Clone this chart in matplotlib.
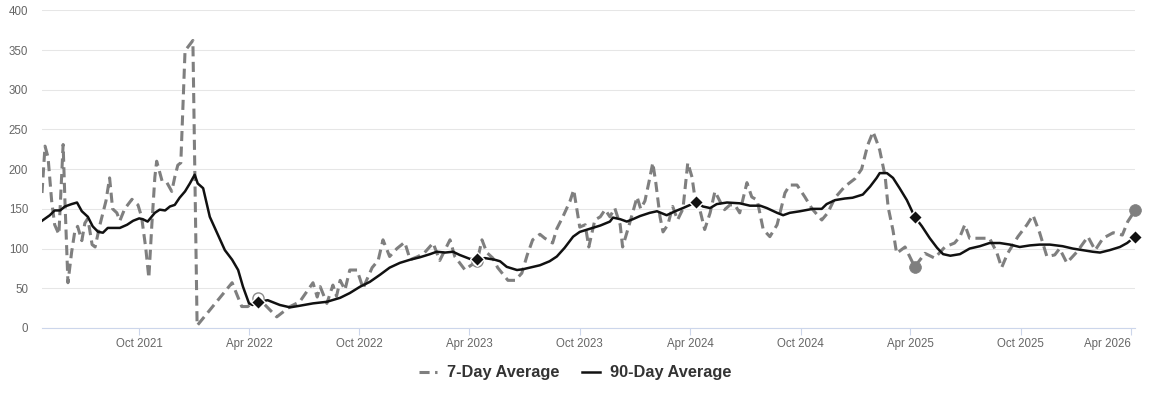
import matplotlib
matplotlib.use('Agg')
import matplotlib.pyplot as plt
import pandas as pd

plt.rcParams['font.family'] = ['Liberation Sans', 'DejaVu Sans']

# 7-day average
week_dates = [
    '2021-04-23', '2021-04-28', '2021-05-03', '2021-05-09', '2021-05-14', '2021-05-21', '2021-05-28',
    '2021-05-31', '2021-06-05', '2021-06-11', '2021-06-16', '2021-06-21', '2021-06-28', '2021-07-03',
    '2021-07-08', '2021-07-15', '2021-07-20', '2021-07-28', '2021-08-07', '2021-08-13', '2021-08-18',
    '2021-08-25', '2021-08-30', '2021-09-07', '2021-09-19', '2021-09-29', '2021-10-05', '2021-10-12',
    '2021-10-17', '2021-10-22', '2021-10-27', '2021-10-30', '2021-11-08', '2021-11-16', '2021-11-24',
    '2021-11-29', '2021-12-04', '2021-12-09', '2021-12-16', '2021-12-29', '2022-01-05', '2022-03-04',
    '2022-03-20', '2022-03-30', '2022-04-16', '2022-05-17', '2022-06-08', '2022-06-24', '2022-07-16',
    '2022-07-23', '2022-07-28', '2022-08-08', '2022-08-18', '2022-08-24', '2022-08-30', '2022-09-07',
    '2022-09-15', '2022-09-27', '2022-10-07', '2022-10-22', '2022-11-01', '2022-11-09', '2022-11-20',
    '2022-12-02', '2022-12-15', '2022-12-24', '2023-01-06', '2023-01-17', '2023-01-31', '2023-02-11',
    '2023-02-28', '2023-03-08', '2023-03-25', '2023-04-02', '2023-04-14', '2023-04-22', '2023-04-30',
    '2023-05-10', '2023-05-18', '2023-06-04', '2023-06-16', '2023-06-27', '2023-07-06', '2023-07-15',
    '2023-07-27', '2023-08-04', '2023-08-17', '2023-08-24', '2023-09-03', '2023-09-15', '2023-09-21',
    '2023-10-01', '2023-10-10', '2023-10-16', '2023-10-26', '2023-11-04', '2023-11-12', '2023-11-20',
    '2023-11-28', '2023-12-07', '2023-12-11', '2023-12-20', '2023-12-28', '2024-01-04', '2024-01-10',
    '2024-01-17', '2024-01-24', '2024-01-30', '2024-02-04', '2024-02-11', '2024-02-16', '2024-02-24',
    '2024-03-03', '2024-03-11', '2024-03-20', '2024-03-28', '2024-04-04', '2024-04-11', '2024-04-17',
    '2024-04-25', '2024-05-04', '2024-05-12', '2024-05-20', '2024-05-28', '2024-06-06', '2024-06-14',
    '2024-06-22', '2024-06-27', '2024-07-04', '2024-07-12', '2024-07-21', '2024-07-31', '2024-08-11',
    '2024-08-23', '2024-09-05', '2024-09-13', '2024-09-25', '2024-10-08', '2024-10-20', '2024-11-05',
    '2024-11-15', '2024-11-27', '2024-12-13', '2024-12-30', '2025-01-10', '2025-01-20', '2025-01-29',
    '2025-02-04', '2025-02-09', '2025-02-18', '2025-02-23', '2025-03-03', '2025-03-09', '2025-03-23',
    '2025-04-08', '2025-04-25', '2025-05-11', '2025-05-28', '2025-06-13', '2025-06-22', '2025-06-30',
    '2025-07-08', '2025-07-25', '2025-08-10', '2025-08-22', '2025-08-30', '2025-09-09', '2025-09-26',
    '2025-10-11', '2025-10-21', '2025-11-01', '2025-11-13', '2025-11-26', '2025-12-04', '2025-12-16',
    '2026-01-02', '2026-01-20', '2026-02-01', '2026-02-14', '2026-03-03', '2026-03-18', '2026-03-27',
    '2026-04-08',
]
week_avg = [
    170, 229, 215, 160, 130, 118, 231,
    160, 57, 95, 120, 128, 110, 132,
    138, 105, 102, 130, 160, 189, 150,
    145, 135, 150, 162, 155, 140, 100,
    63, 130, 190, 210, 185, 183, 172,
    190, 205, 208, 349, 362, 3, 57,
    27, 27, 38, 14, 27, 33, 57,
    39, 52, 31, 54, 40, 60, 48,
    73, 73, 50, 76, 85, 111, 90,
    100, 108, 86, 90, 95, 107, 85,
    111, 90, 73, 78, 84, 111, 95,
    88, 76, 60, 60, 69, 92, 111,
    118, 113, 107, 125, 140, 160, 174,
    127, 130, 102, 136, 140, 149, 140,
    151, 130, 102, 125, 146, 165, 150,
    160, 185, 208, 183, 140, 121, 130,
    153, 136, 150, 208, 190, 152, 149,
    124, 145, 172, 160, 149, 155, 155,
    145, 161, 183, 165, 161, 124, 115,
    130, 170, 180, 180, 165, 150, 136,
    145, 164, 178, 188, 200, 230, 247,
    235, 224, 191, 152, 123, 94, 102,
    77, 94, 88, 102, 107, 115, 130,
    113, 113, 113, 95, 76, 94, 115,
    130, 142, 120, 90, 92, 100, 82,
    96, 115, 98, 113, 120, 117, 134,
    148,
]

# 90-day average
quarter_dates = [
    '2021-04-23', '2021-05-06', '2021-05-14', '2021-05-23', '2021-05-31', '2021-06-11', '2021-06-20',
    '2021-06-28', '2021-07-08', '2021-07-16', '2021-07-25', '2021-08-02', '2021-08-10', '2021-08-22',
    '2021-08-30', '2021-09-11', '2021-09-21', '2021-10-01', '2021-10-07', '2021-10-15', '2021-10-27',
    '2021-11-04', '2021-11-13', '2021-11-21', '2021-11-29', '2021-12-07', '2021-12-16', '2021-12-24',
    '2022-01-01', '2022-01-06', '2022-01-15', '2022-01-26', '2022-02-07', '2022-02-20', '2022-03-04',
    '2022-03-14', '2022-03-22', '2022-04-01', '2022-04-07', '2022-04-16', '2022-05-02', '2022-05-22',
    '2022-06-08', '2022-06-24', '2022-07-16', '2022-08-08', '2022-08-30', '2022-09-15', '2022-10-02',
    '2022-10-18', '2022-11-04', '2022-11-20', '2022-12-07', '2022-12-24', '2023-01-09', '2023-01-26',
    '2023-02-06', '2023-02-20', '2023-03-05', '2023-03-16', '2023-04-02', '2023-04-14', '2023-04-27',
    '2023-05-13', '2023-05-22', '2023-06-02', '2023-06-19', '2023-06-29', '2023-07-10', '2023-07-27',
    '2023-08-12', '2023-08-24', '2023-09-06', '2023-09-20', '2023-10-01', '2023-10-18', '2023-11-04',
    '2023-11-20', '2023-11-25', '2023-12-07', '2023-12-18', '2023-12-28', '2024-01-09', '2024-01-25',
    '2024-02-06', '2024-02-22', '2024-03-07', '2024-03-20', '2024-04-01', '2024-04-11', '2024-04-22',
    '2024-05-04', '2024-05-15', '2024-06-01', '2024-06-22', '2024-07-09', '2024-07-26', '2024-08-06',
    '2024-08-23', '2024-09-02', '2024-09-13', '2024-09-30', '2024-10-21', '2024-11-05', '2024-11-13',
    '2024-11-27', '2024-12-13', '2024-12-26', '2025-01-12', '2025-01-24', '2025-02-04', '2025-02-09',
    '2025-02-21', '2025-03-03', '2025-03-14', '2025-03-26', '2025-04-08', '2025-04-20', '2025-05-03',
    '2025-05-15', '2025-05-25', '2025-06-06', '2025-06-22', '2025-07-08', '2025-07-25', '2025-08-10',
    '2025-08-27', '2025-09-13', '2025-09-29', '2025-10-16', '2025-11-01', '2025-11-18', '2025-12-09',
    '2025-12-26', '2026-01-12', '2026-01-28', '2026-02-09', '2026-02-25', '2026-03-14', '2026-03-26',
    '2026-04-08',
]
quarter_avg = [
    135, 142, 148, 148, 153, 156, 158,
    147, 140, 128, 121, 120, 126, 126,
    126, 130, 135, 138, 137, 134, 145,
    149, 148, 153, 155, 164, 172, 182,
    193, 182, 176, 140, 120, 98, 86,
    73, 52, 31, 29, 33, 35, 29,
    26, 28, 31, 33, 38, 44, 52,
    58, 67, 76, 82, 86, 89, 93,
    96, 95, 96, 92, 87, 87, 88,
    86, 84, 77, 73, 74, 76, 79,
    84, 90, 101, 115, 121, 125, 129,
    134, 139, 137, 134, 137, 141, 145,
    147, 142, 147, 151, 155, 159, 153,
    151, 156, 158, 157, 154, 154, 151,
    145, 142, 145, 147, 150, 150, 156,
    161, 163, 164, 168, 178, 189, 195,
    195, 189, 176, 161, 140, 128, 113,
    101, 93, 91, 93, 100, 103, 107,
    107, 105, 102, 104, 105, 105, 103,
    100, 98, 96, 95, 98, 102, 107,
    115,
]

marker_dates = ['2022-04-16', '2023-04-14', '2024-04-11', '2025-04-08', '2026-04-08']
open_circle_dates = ['2022-04-16', '2023-04-14']
filled_circle_dates = ['2025-04-08', '2026-04-08']

w = pd.Series(week_avg, index=pd.to_datetime(week_dates))
q = pd.Series(quarter_avg, index=pd.to_datetime(quarter_dates))

fig = plt.figure(figsize=(11.5, 4.01), dpi=100)
ax = fig.add_axes([42 / 1150, 1 - 328 / 401, (1135 - 42) / 1150, (328 - 10.3) / 401])

ax.plot(w.index, w.values, color='#7f7f7f', lw=2.2, dashes=(3.3, 1.8), label='7-Day Average', zorder=3)
ax.plot(q.index, q.values, color='#111111', lw=1.8, label='90-Day Average', zorder=4)

oc = w.loc[pd.to_datetime(open_circle_dates)]
ax.plot(oc.index, oc.values, 'o', ms=8, mfc='white', mec='#8a8a8a', mew=1, zorder=5, clip_on=False)
fc = w.loc[pd.to_datetime(filled_circle_dates)]
ax.plot(fc.index, fc.values, 'o', ms=8.5, mfc='#7f7f7f', mec='#7f7f7f', mew=0.5, zorder=5, clip_on=False)
md = q.loc[pd.to_datetime(marker_dates)]
ax.plot(md.index, md.values, 'D', ms=7, mfc='#111111', mec='white', mew=1, zorder=6, clip_on=False)

ax.set_xlim(w.index[0], w.index[-1])
ax.set_ylim(0, 400)
ax.set_yticks(range(0, 401, 50))

tick_dates = pd.date_range('2021-10-01', '2026-04-01', freq='6MS')
ax.set_xticks(tick_dates)
ax.set_xticklabels([d.strftime('%b %Y') for d in tick_dates])
ax.get_xticklabels()[-1].set_ha('right')

for s in ['top', 'right', 'left']:
    ax.spines[s].set_visible(False)
ax.spines['bottom'].set_color('#ccd6eb')
ax.spines['bottom'].set_linewidth(0.8)

ax.grid(axis='y', color='#e6e6e6', lw=0.75)
ax.set_axisbelow(True)
ax.tick_params(axis='y', length=0, labelsize=8.3, labelcolor='#666666', pad=10)
ax.tick_params(axis='x', direction='out', length=5, width=0.8, color='#ccd6eb',
               labelsize=8.3, labelcolor='#666666', pad=2)

leg = fig.legend(loc='center', bbox_to_anchor=(0.5, 1 - 373 / 401), ncol=2, frameon=False,
                 prop={'weight': 'bold', 'size': 11.8}, handlelength=1.1, columnspacing=1.4,
                 handletextpad=0.6)
for t in leg.get_texts():
    t.set_color('#333333')

fig.savefig('out.png', dpi=100)
